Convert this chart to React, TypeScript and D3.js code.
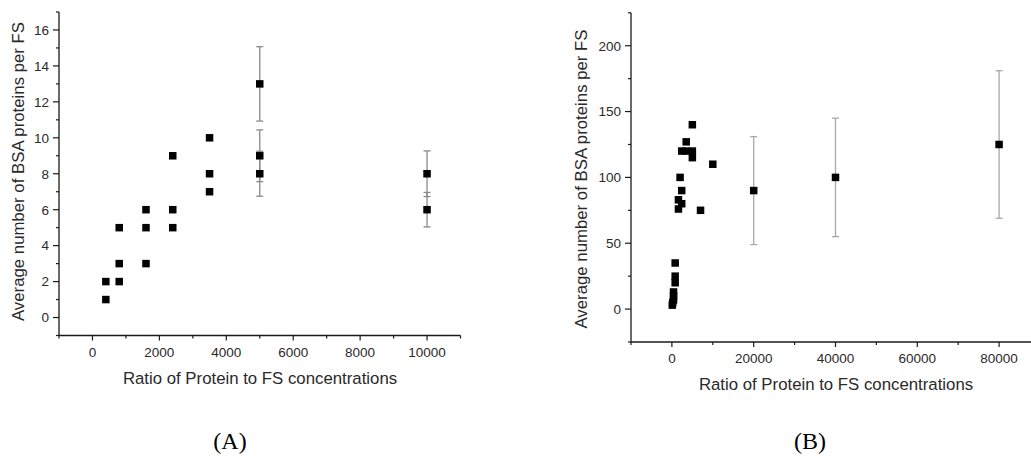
import React from "react";
import * as d3 from "d3";

// Panel A data
const aX = [400, 400, 800, 800, 800, 1600, 1600, 1600, 2400, 2400, 2400, 3500, 3500, 3500, 5000, 5000, 5000, 10000, 10000];
const aY = [1, 2, 2, 3, 5, 3, 5, 6, 5, 6, 9, 7, 8, 10, 8, 9, 13, 6, 8];
const aErr = [0, 0, 0, 0, 0, 0, 0, 0, 0, 0, 0, 0, 0, 0, 1.25, 1.44, 2.07, 0.96, 1.27];
const aXTicks = [0, 2000, 4000, 6000, 8000, 10000];
const aYTicks = [0, 2, 4, 6, 8, 10, 12, 14, 16];

// Panel B data
const bX = [100, 200, 400, 400, 400, 800, 800, 800, 1600, 1600, 2400, 2400, 2000, 2400, 3500, 5000, 5000, 3500, 5000, 10000, 7000, 20000, 40000, 80000];
const bY = [3, 5, 7, 10, 13, 20, 25, 35, 76, 83, 80, 90, 100, 120, 120, 120, 115, 127, 140, 110, 75, 90, 100, 125];
const bErr = [0, 0, 0, 0, 0, 0, 0, 0, 0, 0, 0, 0, 0, 0, 0, 0, 0, 0, 0, 0, 0, 41, 45, 56];
const bXTicks = [0, 20000, 40000, 60000, 80000];
const bYTicks = [0, 50, 100, 150, 200];

const xTitle = "Ratio of Protein to FS concentrations";
const yTitle = "Average number of BSA proteins per FS";

const SANS = "'Liberation Sans', Arial, sans-serif";

type PanelProps = {
  xs: number[]; ys: number[]; errs: number[];
  xDomain: [number, number]; yDomain: [number, number];
  xRange: [number, number]; yRange: [number, number];
  xTicks: number[]; yTicks: number[];
  xMinor: number; yMinor: number;
  errColor: string;
  yTitleX: number; yTitleY: number; xTitleX: number; xTitleY: number;
};

function Panel(p: PanelProps) {
  const x = d3.scaleLinear().domain(p.xDomain).range(p.xRange);
  const y = d3.scaleLinear().domain(p.yDomain).range(p.yRange);
  const x0 = p.xRange[0];
  const yb = p.yRange[0];
  const xMinorTicks = d3.range(p.xDomain[0], p.xDomain[1] + 1e-9, p.xMinor).filter(v => !p.xTicks.includes(v));
  const yMinorTicks = d3.range(p.yDomain[0], p.yDomain[1] + 1e-9, p.yMinor).filter(v => !p.yTicks.includes(v));
  const ms = 7.5;
  const axisColor = "#1a1a1a";
  return (
    <g>
      {/* axes */}
      <line x1={x0} x2={x0} y1={p.yRange[1]} y2={yb} stroke={axisColor} strokeWidth={1.3} />
      <line x1={x0} x2={p.xRange[1]} y1={yb} y2={yb} stroke={axisColor} strokeWidth={1.3} />
      {p.xTicks.map(v => (
        <g key={"xt" + v}>
          <line x1={x(v)} x2={x(v)} y1={yb} y2={yb + 5} stroke={axisColor} strokeWidth={1.2} />
          <text x={x(v)} y={yb + 21} textAnchor="middle" fontFamily={SANS} fontSize={13.5} fill="#2a2a2a">{v}</text>
        </g>
      ))}
      {xMinorTicks.map(v => (
        <line key={"xm" + v} x1={x(v)} x2={x(v)} y1={yb} y2={yb + 3} stroke={axisColor} strokeWidth={1.2} />
      ))}
      {p.yTicks.map(v => (
        <g key={"yt" + v}>
          <line x1={x0 - 6} x2={x0} y1={y(v)} y2={y(v)} stroke={axisColor} strokeWidth={1.2} />
          <text x={x0 - 10} y={y(v)} dy="0.36em" textAnchor="end" fontFamily={SANS} fontSize={13.5} fill="#2a2a2a">{v}</text>
        </g>
      ))}
      {yMinorTicks.map(v => (
        <line key={"ym" + v} x1={x0 - 3} x2={x0} y1={y(v)} y2={y(v)} stroke={axisColor} strokeWidth={1.2} />
      ))}
      {/* error bars */}
      {p.xs.map((xv, i) => p.errs[i] > 0 ? (
        <g key={"e" + i} stroke={p.errColor} strokeWidth={1.3}>
          <line x1={x(xv)} x2={x(xv)} y1={y(p.ys[i] - p.errs[i])} y2={y(p.ys[i] + p.errs[i])} />
          <line x1={x(xv) - 3.5} x2={x(xv) + 3.5} y1={y(p.ys[i] + p.errs[i])} y2={y(p.ys[i] + p.errs[i])} />
          <line x1={x(xv) - 3.5} x2={x(xv) + 3.5} y1={y(p.ys[i] - p.errs[i])} y2={y(p.ys[i] - p.errs[i])} />
        </g>
      ) : null)}
      {/* markers */}
      {p.xs.map((xv, i) => (
        <rect key={"m" + i} x={x(xv) - ms / 2} y={y(p.ys[i]) - ms / 2} width={ms} height={ms} fill="#000" />
      ))}
      {/* titles */}
      <text transform={`translate(${p.yTitleX},${p.yTitleY}) rotate(-90)`} textAnchor="middle" fontFamily={SANS} fontSize={16.8} fill="#2a2a2a">{yTitle}</text>
      <text x={p.xTitleX} y={p.xTitleY} textAnchor="middle" fontFamily={SANS} fontSize={16.8} fill="#2a2a2a">{xTitle}</text>
    </g>
  );
}

export default function App() {
  return (
    <svg width={1031} height={456} style={{ position: "absolute", left: 0, top: 0, background: "#fff" }}>
      <rect width={1031} height={456} fill="#fff" />
      <Panel xs={aX} ys={aY} errs={aErr}
        xDomain={[-1000, 11000]} yDomain={[-1, 17]}
        xRange={[59, 460.5]} yRange={[335.5, 12]}
        xTicks={aXTicks} yTicks={aYTicks} xMinor={1000} yMinor={1}
        errColor="#8a8a8a"
        yTitleX={23.5} yTitleY={171.5} xTitleX={260} xTitleY={383.5} />
      <Panel xs={bX} ys={bY} errs={bErr}
        xDomain={[-10000, 90000]} yDomain={[-25, 225]}
        xRange={[631, 1040]} yRange={[342, 12.8]}
        xTicks={bXTicks} yTicks={bYTicks} xMinor={10000} yMinor={25}
        errColor="#a8a8a8"
        yTitleX={587} yTitleY={179} xTitleX={836} xTitleY={390} />
      <text x={230} y={449} textAnchor="middle" fontFamily="'Liberation Serif', 'Times New Roman', serif" fontSize={24} fill="#000">(A)</text>
      <text x={810} y={449} textAnchor="middle" fontFamily="'Liberation Serif', 'Times New Roman', serif" fontSize={24} fill="#000">(B)</text>
    </svg>
  );
}
